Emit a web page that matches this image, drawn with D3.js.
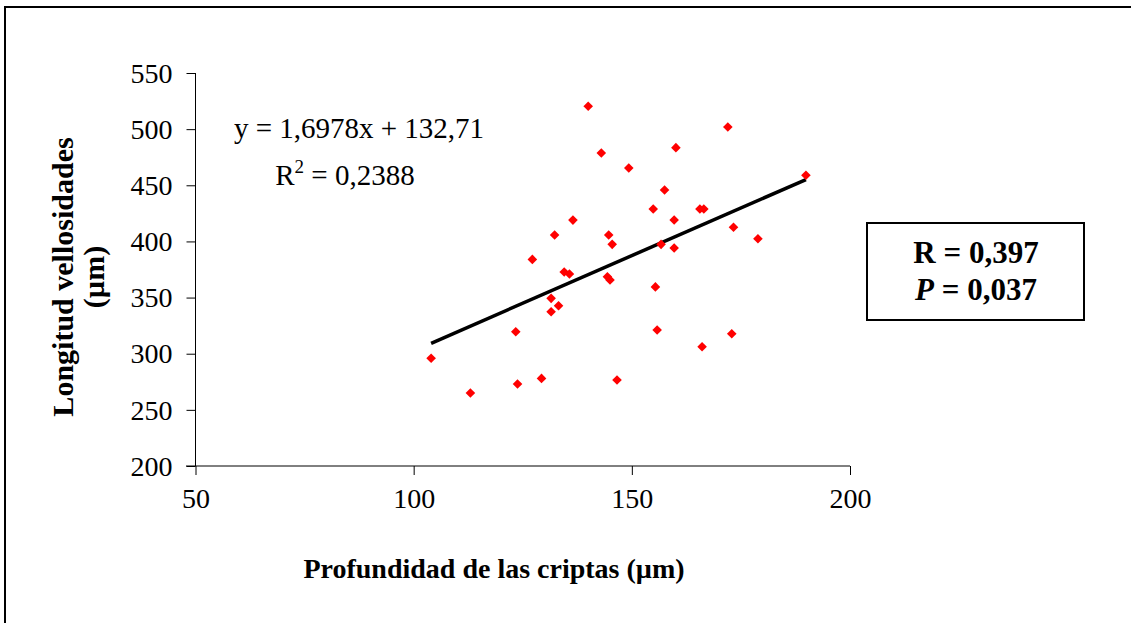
<!DOCTYPE html>
<html>
<head>
<meta charset="utf-8">
<script src="https://cdn.jsdelivr.net/npm/d3@7"></script>
<style>
  html, body { margin: 0; padding: 0; background: #fff; }
  svg { display: block; }
  text { font-family: "Liberation Serif", "Times New Roman", serif; fill: #000; }
</style>
</head>
<body>
<svg id="chart" width="1131" height="623"></svg>
<script>
// ---- data ----
const crypt = [104, 113, 123.4, 123.8, 127.2, 129.3, 131.5, 131.5, 133.2, 132.3,
  134.5, 135.7, 136.5, 140, 143, 144.4, 145, 144.7, 145.5, 146.6,
  149.3, 154.9, 155.4, 155.8, 156.7, 157.5, 159.7, 159.7, 160.1, 165.6,
  166.5, 166.1, 172, 172.9, 173.3, 178.9, 189.9];
const villi = [296, 265, 319.6, 273, 384, 278, 349.3, 337.4, 342.7, 405.7,
  372.8, 371, 419, 520.4, 478.7, 368.6, 365.6, 405.7, 397.4, 276.6,
  465.4, 428.9, 359.5, 321.1, 397.4, 445.8, 419.1, 394.1, 483.5, 428.9,
  428.9, 306.2, 501.9, 317.8, 412.6, 402.4, 458.9];
const xTicks = [50, 100, 150, 200];
const yTicks = [200, 250, 300, 350, 400, 450, 500, 550];
const slope = 1.6978, intercept = 132.71;
const eqLabel = "y = 1,6978x + 132,71";
const r2Label = "0,2388";
const statR = "0,397", statP = "0,037";
const xTitle = "Profundidad de las criptas (µm)";
const yTitle1 = "Longitud vellosidades", yTitle2 = "(µm)";

const svg = d3.select("#chart");
const x = d3.scaleLinear().domain([50, 200]).range([195.5, 850]);
const y = d3.scaleLinear().domain([200, 550]).range([466, 73]);

// outer frame
svg.append("rect").attr("x", 5).attr("y", 7).attr("width", 1200).attr("height", 700)
  .attr("fill", "none").attr("stroke", "#000").attr("stroke-width", 2);

// y axis
const yAxis = svg.append("g").attr("transform", "translate(195.5,0)")
  .call(d3.axisLeft(y).tickValues(yTicks).tickSize(9).tickPadding(14).tickFormat(d3.format("d")));
yAxis.select(".domain").attr("stroke", "#000").attr("d", "M0,73V466");
yAxis.selectAll("text").attr("font-size", 28).attr("font-family", "Liberation Serif").attr("dy", "0.33em");

// x axis
const xAxis = svg.append("g").attr("transform", "translate(0,466)")
  .call(d3.axisBottom(x).tickValues(xTicks).tickSize(9).tickPadding(8).tickFormat(d3.format("d")));
xAxis.select(".domain").attr("stroke", "#000").attr("d", "M186,0H850");
xAxis.selectAll("text").attr("font-size", 28).attr("font-family", "Liberation Serif").attr("dy", "0.9em");

// trendline
const xMin = d3.min(crypt), xMax = d3.max(crypt);
svg.append("line")
  .attr("x1", x(xMin)).attr("y1", y(slope * xMin + intercept))
  .attr("x2", x(xMax)).attr("y2", y(slope * xMax + intercept))
  .attr("stroke", "#000").attr("stroke-width", 3.5);

// points
const pts = crypt.map((c, i) => ({ c, v: villi[i] }));
svg.append("g").selectAll("path").data(pts).enter().append("path")
  .attr("d", d3.symbol().type(d3.symbolSquare).size(46))
  .attr("transform", d => `translate(${x(d.c)},${y(d.v)}) rotate(45)`)
  .attr("fill", "#ff0000");

// equation
svg.append("text").attr("x", 359).attr("y", 138).attr("text-anchor", "middle")
  .attr("font-size", 29).text(eqLabel);
const r2 = svg.append("text").attr("x", 345).attr("y", 185).attr("text-anchor", "middle")
  .attr("font-size", 29);
r2.append("tspan").text("R");
r2.append("tspan").attr("font-size", 19).attr("dy", -12).text("2");
r2.append("tspan").attr("dy", 12).text(" = " + r2Label);

// axis titles
svg.append("text").attr("x", 494).attr("y", 578).attr("text-anchor", "middle")
  .attr("font-size", 28).attr("font-weight", "bold").text(xTitle);
const yt = svg.append("g").attr("transform", "translate(0,277) rotate(-90)");
yt.append("text").attr("x", 0).attr("y", 73).attr("text-anchor", "middle")
  .attr("font-size", 30).attr("font-weight", "bold").text(yTitle1);
yt.append("text").attr("x", 0).attr("y", 104).attr("text-anchor", "middle")
  .attr("font-size", 30).attr("font-weight", "bold").text(yTitle2);

// stats box
svg.append("rect").attr("x", 867).attr("y", 223).attr("width", 217).attr("height", 97)
  .attr("fill", "#fff").attr("stroke", "#000").attr("stroke-width", 2);
svg.append("text").attr("x", 976).attr("y", 263).attr("text-anchor", "middle")
  .attr("font-size", 31).attr("font-weight", "bold").text("R = " + statR);
const pt = svg.append("text").attr("x", 976).attr("y", 300).attr("text-anchor", "middle")
  .attr("font-size", 31).attr("font-weight", "bold");
pt.append("tspan").attr("font-style", "italic").text("P");
pt.append("tspan").text(" = " + statP);
</script>
</body>
</html>
